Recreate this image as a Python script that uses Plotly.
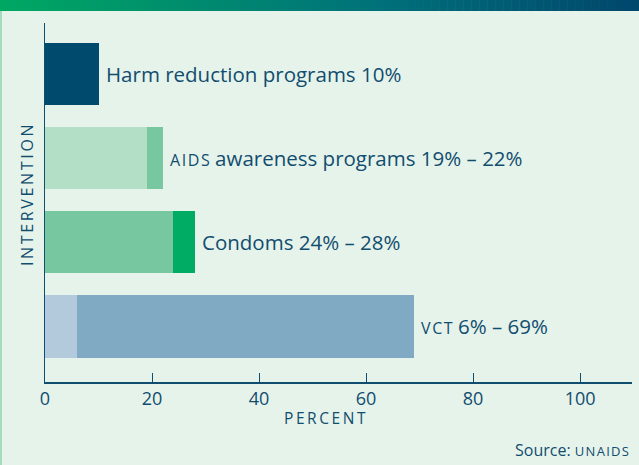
import plotly.graph_objects as go

# ---- data ----
categories = ["Harm reduction programs", "AIDS awareness programs", "Condoms", "VCT"]
label_html = ["Harm reduction programs",
              "<span style='font-size:16px'>A\u200aI\u200aD\u200aS</span> awareness programs",
              "Condoms",
              "<span style='font-size:16px'>V\u200aC\u200aT</span>"]
low_values = [10, 19, 24, 6]
high_values = [10, 22, 28, 69]
value_labels = ["10%", "19% – 22%", "24% – 28%", "6% – 69%"]
x_ticks = [0, 20, 40, 60, 80, 100]

# ---- style ----
base_colors = ["#004a6e", "#b3dfc6", "#77c8a0", "#b3c9dc"]
ext_colors = ["#004a6e", "#77c8a0", "#00ab63", "#80a9c4"]
text_color = "#114d6f"
bg = "#e6f3ea"
W, H = 639, 465
L, R, T, B = 45, 7, 23, 83
pw, ph = W - L - R, H - T - B

def px(xp):
    return (xp - L) / pw

def py(yp):
    return 1 - (yp - T) / ph

ypos = list(range(len(categories)))
ext_values = [h - l for l, h in zip(low_values, high_values)]

fig = go.Figure()
fig.add_trace(go.Bar(y=ypos, x=low_values, orientation="h", width=0.74,
                     marker=dict(color=base_colors, line=dict(width=0)),
                     hoverinfo="skip"))
fig.add_trace(go.Bar(y=ypos, x=ext_values, base=low_values, orientation="h", width=0.74,
                     marker=dict(color=ext_colors, line=dict(width=0)),
                     hoverinfo="skip"))

annotations = []
for i, (lab, hv, vl) in enumerate(zip(label_html, high_values, value_labels)):
    annotations.append(dict(x=hv, y=i, xref="x", yref="y", text=f"{lab} {vl}",
                            showarrow=False, xanchor="left", yanchor="middle",
                            xshift=5, font=dict(size=20.5, color=text_color)))

annotations.append(dict(x=px(325), y=py(418), xref="paper", yref="paper",
                        text="\u2009".join("PERCENT"),
                        showarrow=False, xanchor="center", yanchor="middle",
                        font=dict(size=15.5, color=text_color)))
annotations.append(dict(x=px(27), y=py(195), xref="paper", yref="paper",
                        text="\u2009".join("INTERVENTION"), textangle=-90,
                        showarrow=False, xanchor="center", yanchor="middle",
                        font=dict(size=16, color=text_color)))
annotations.append(dict(x=px(631), y=py(450), xref="paper", yref="paper",
                        text="Source: <span style='font-size:13px'>U\u200aN\u200aA\u200aI\u200aD\u200aS</span>",
                        showarrow=False, xanchor="right", yanchor="middle",
                        font=dict(size=16, color=text_color)))

shapes = []
# left light-green border
shapes.append(dict(type="rect", xref="paper", yref="paper",
                   x0=px(0), x1=px(2), y0=py(H), y1=py(11),
                   fillcolor="#a6dbbd", line=dict(width=0), layer="below"))
# top gradient band
stops = [(0.0, (0, 168, 98)), (0.6, (0, 112, 122)), (1.0, (0, 70, 108))]
def grad(t):
    for (t0, c0), (t1, c1) in zip(stops[:-1], stops[1:]):
        if t <= t1:
            f = (t - t0) / (t1 - t0)
            return tuple(round(a + (b - a) * f) for a, b in zip(c0, c1))
    return stops[-1][1]
n = 80
for k in range(n):
    x0 = W * k / n
    x1 = W * (k + 1) / n + 0.6
    c = grad((k + 0.5) / n)
    shapes.append(dict(type="rect", xref="paper", yref="paper",
                       x0=px(x0), x1=px(x1), y0=py(11), y1=py(0),
                       fillcolor=f"rgb{c}", line=dict(width=0)))

fig.update_layout(
    width=W, height=H, margin=dict(l=L, r=R, t=T, b=B),
    paper_bgcolor=bg, plot_bgcolor=bg, barmode="overlay", bargap=0,
    showlegend=False, annotations=annotations, shapes=shapes,
    font=dict(family="Open Sans", color=text_color),
    xaxis=dict(range=[0, 109.7], tickvals=x_ticks, ticks="inside", ticklen=9,
               tickwidth=1.2, tickcolor=text_color, showline=True,
               linecolor=text_color, linewidth=1.5, showgrid=False, zeroline=False,
               tickfont=dict(size=18, color=text_color), fixedrange=True),
    yaxis=dict(range=[3.66, -0.606], showticklabels=False, ticks="", showline=True,
               linecolor=text_color, linewidth=1.2, showgrid=False, zeroline=False,
               fixedrange=True),
)

fig.write_html("out.html", config={"displayModeBar": False},
               post_script="document.body.style.margin='0';document.body.style.padding='0';document.body.style.background='%s';" % bg)
